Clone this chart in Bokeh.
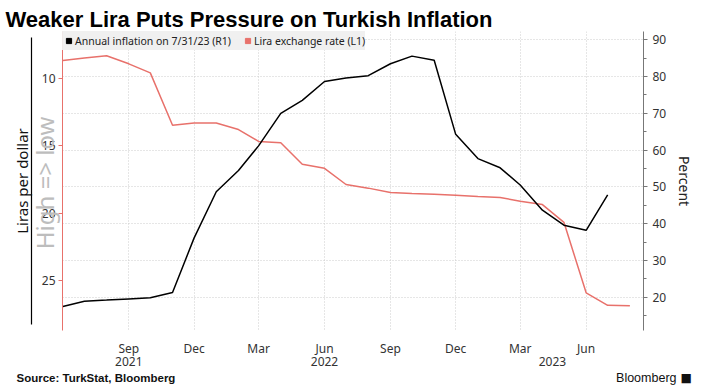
import pandas as pd
from bokeh.plotting import figure
from bokeh.layouts import column
from bokeh.models import (Range1d, LinearAxis, DatetimeAxis, FixedTicker, Grid,
                          Legend, LegendItem, Label)
from bokeh.embed import file_html
from bokeh.resources import INLINE

# ---------------- data ----------------
infl_months = pd.date_range("2021-06-01", "2023-07-01", freq="MS")
inflation = [17.53, 18.95, 19.25, 19.58, 19.89, 21.31, 36.08, 48.69, 54.44,
             61.14, 69.97, 73.50, 78.62, 79.60, 80.21, 83.45, 85.51, 84.39,
             64.27, 57.68, 55.18, 50.51, 43.68, 39.59, 38.21, 47.83]

lira_months = pd.date_range("2021-06-01", "2023-08-01", freq="MS")
lira = [8.66, 8.46, 8.30, 8.90, 9.57, 13.46, 13.30, 13.30, 13.78, 14.66,
        14.76, 16.35, 16.66, 17.86, 18.13, 18.46, 18.53, 18.58, 18.65, 18.75,
        18.82, 19.11, 19.35, 20.67, 25.90, 26.83, 26.87]

month_tick_dates = ["2021-09-01", "2021-12-01", "2022-03-01", "2022-06-01",
                    "2022-09-01", "2022-12-01", "2023-03-01", "2023-06-01"]
month_tick_labels = ["Sep", "Dec", "Mar", "Jun", "Sep", "Dec", "Mar", "Jun"]
year_tick_dates = ["2021-09-01", "2022-06-01", "2023-04-15"]
year_tick_labels = ["2021", "2022", "2023"]

lira_ticks = [10, 15, 20, 25]
pct_ticks = [20, 30, 40, 50, 60, 70, 80, 90]
pct_minor = [15, 25, 35, 45, 55, 65, 75, 85]
direction_note_at = 17.74
direction_note = "High => low"

RED = "#e8716b"
FONT = "Noto Sans"
W = 697


def ms(d):
    return pd.Timestamp(d).timestamp() * 1000.0


def no_align(fig):
    try:
        fig.frame_align = False
    except Exception:
        pass


x_start = ms("2021-05-31 12:00")
x_end = ms("2023-08-20")

# ---------------- header ----------------
head = figure(width=W, height=31, x_range=Range1d(0, 1), y_range=Range1d(0, 1),
              x_axis_location=None, y_axis_location=None,
              output_backend="svg", toolbar_location=None, min_border=0)
head.outline_line_color = None
head.grid.visible = False
no_align(head)
head.add_layout(Label(x=5, y=12, x_units="screen", y_units="screen",
                      text="Weaker Lira Puts Pressure on Turkish Inflation",
                      text_font="Liberation Sans", text_font_style="bold",
                      text_font_size="22px", text_color="black",
                      text_baseline="alphabetic"))

# ---------------- main chart ----------------
p = figure(width=W, height=337, x_axis_type="datetime",
           x_range=Range1d(x_start, x_end), y_range=Range1d(28.7, 6.5),
           output_backend="svg", toolbar_location=None,
           min_border_left=62, min_border_right=48, min_border_top=0,
           min_border_bottom=30)
no_align(p)
p.extra_y_ranges = {"pct": Range1d(11.0, 92.2)}
p.outline_line_color = None

mt = [ms(d) for d in month_tick_dates]
p.xgrid.ticker = FixedTicker(ticks=mt)
p.xgrid.grid_line_color = "#cccccc"
p.xgrid.grid_line_dash = "1 2"
p.ygrid.visible = False
p.add_layout(Grid(dimension=1, ticker=FixedTicker(ticks=pct_ticks),
                  y_range_name="pct", grid_line_color="#cccccc",
                  grid_line_dash="1 2"))

p.line(x=list(lira_months), y=lira, line_color=RED, line_width=1.5)
p.line(x=list(infl_months), y=inflation, line_color="black", line_width=1.5,
       y_range_name="pct")

# legend (square swatches from off-range points)
sq1 = p.scatter(x=[x_start - 1e11], y=[15], marker="square", size=6, color="black")
sq2 = p.scatter(x=[x_start - 1e11], y=[15], marker="square", size=6, color=RED)
legend = Legend(items=[LegendItem(label="Annual inflation on 7/31/23 (R1)", renderers=[sq1]),
                       LegendItem(label="Lira exchange rate (L1)", renderers=[sq2])],
                location="top_left", orientation="horizontal", margin=0,
                padding=2, spacing=10, glyph_width=13, glyph_height=19,
                label_height=19, label_standoff=0,
                label_text_font=FONT, label_text_font_size="10.5px",
                label_text_color="#222222",
                background_fill_color="#efefef", background_fill_alpha=0.95,
                border_line_color=None)
p.add_layout(legend)

# inner left axis: lira ticks
ya = p.yaxis[0]
ya.ticker = FixedTicker(ticks=lira_ticks)
ya.axis_line_color = RED
ya.major_tick_line_color = RED
ya.major_tick_out = 4
ya.major_tick_in = 0
ya.minor_tick_line_color = None
ya.major_label_standoff = 3
ya.major_label_text_font = FONT
ya.major_label_text_font_size = "12px"
ya.major_label_text_color = "#333333"
ya.axis_label = " "
ya.axis_label_text_font_size = "3.5px"
ya.axis_label_standoff = 0

# outer left axis: black line, "High => low" note and axis title
outer = LinearAxis(ticker=FixedTicker(ticks=[direction_note_at]),
                   major_label_overrides={direction_note_at: direction_note},
                   major_label_orientation="vertical",
                   bounds=(6.94, 28.23),
                   axis_line_color="black", axis_line_width=1.2,
                   major_tick_out=0, major_tick_in=0, minor_tick_out=0,
                   minor_tick_in=0, major_tick_line_color=None,
                   minor_tick_line_color=None, major_label_standoff=-30,
                   major_label_text_font=FONT, major_label_text_font_size="24px",
                   major_label_text_color="#bdbdbd",
                   axis_label="Liras per dollar", axis_label_text_font=FONT,
                   axis_label_text_font_size="15px",
                   axis_label_text_font_style="normal",
                   axis_label_text_color="#111111", axis_label_standoff=-6)
p.add_layout(outer, "left")

ra = LinearAxis(y_range_name="pct",
                ticker=FixedTicker(ticks=pct_ticks, minor_ticks=pct_minor),
                axis_line_color="#777777", major_tick_line_color="#777777",
                minor_tick_line_color="#777777", major_tick_out=4, major_tick_in=0,
                minor_tick_out=3, minor_tick_in=0, major_label_standoff=5,
                major_label_text_font=FONT, major_label_text_font_size="12px",
                major_label_text_color="#333333", axis_label="Percent",
                axis_label_text_font=FONT, axis_label_text_font_size="14px",
                axis_label_text_font_style="normal",
                axis_label_text_color="#222222", axis_label_standoff=6)
p.add_layout(ra, "right")

xa = p.xaxis[0]
xa.ticker = FixedTicker(ticks=mt)
xa.major_label_overrides = {t: l for t, l in zip(mt, month_tick_labels)}
xa.axis_line_color = None
xa.major_tick_line_color = None
xa.minor_tick_line_color = None
xa.major_label_standoff = 3
xa.major_label_text_font = FONT
xa.major_label_text_font_size = "12px"
xa.major_label_text_color = "#333333"

yt = [ms(d) for d in year_tick_dates]
year_axis = DatetimeAxis(ticker=FixedTicker(ticks=yt),
                         major_label_overrides={t: l for t, l in zip(yt, year_tick_labels)},
                         axis_line_color=None, major_tick_line_color=None,
                         minor_tick_line_color=None, major_tick_out=0,
                         major_tick_in=0, minor_tick_out=0, minor_tick_in=0,
                         major_label_standoff=-3, major_label_text_font=FONT,
                         major_label_text_font_size="12px",
                         major_label_text_color="#333333")
p.add_layout(year_axis, "below")

# ---------------- footer ----------------
foot = figure(width=W, height=23, x_range=Range1d(0, 1), y_range=Range1d(0, 1),
              x_axis_location=None, y_axis_location=None,
              output_backend="svg", toolbar_location=None, min_border=0)
foot.outline_line_color = None
foot.grid.visible = False
no_align(foot)
foot.add_layout(Label(x=16, y=20, x_units="screen", y_units="screen",
                      text="Source: TurkStat, Bloomberg", text_font="Liberation Sans",
                      text_font_style="bold", text_font_size="11.5px",
                      text_color="#111111", text_baseline="top"))
foot.add_layout(Label(x=676, y=14, x_units="screen", y_units="screen",
                      text="Bloomberg", text_font="Liberation Sans",
                      text_font_size="12.5px", text_color="#111111",
                      text_align="right", text_baseline="alphabetic"))
foot.add_layout(Label(x=680, y=14, x_units="screen", y_units="screen",
                      text="■", text_font="DejaVu Sans", text_font_size="12px",
                      text_color="#111111", text_baseline="alphabetic"))

layout = column(head, p, foot, spacing=0)
open("out.html", "w").write(file_html(layout, INLINE))
